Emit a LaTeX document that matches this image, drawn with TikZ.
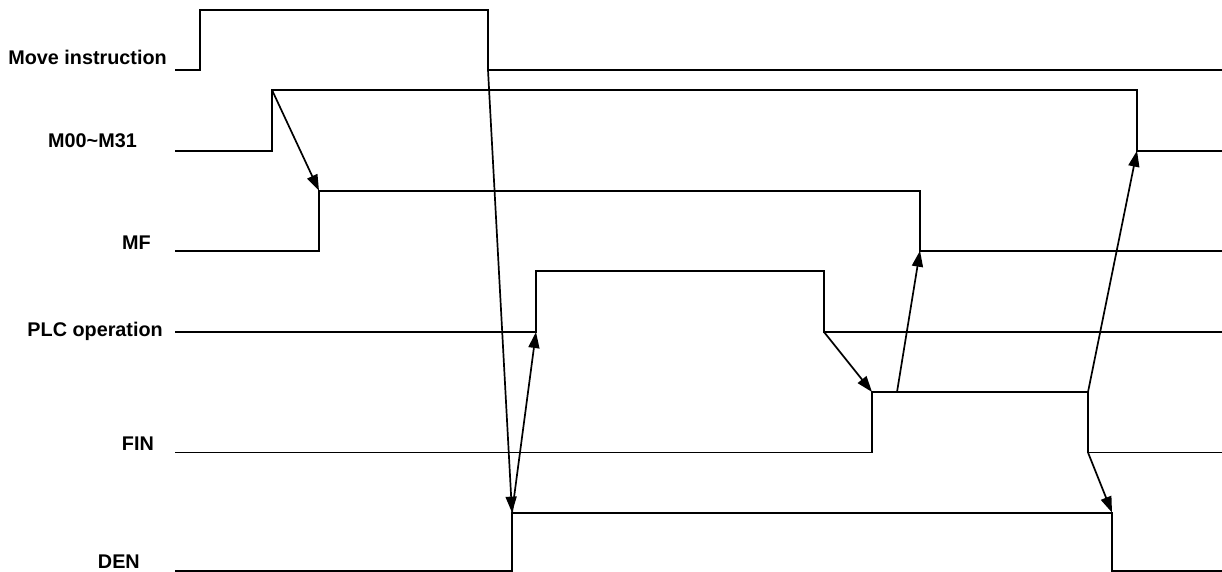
\documentclass[tikz,border=0pt]{standalone}
\usepackage{fontspec}
\setmainfont{Liberation Sans}
\usetikzlibrary{arrows.meta}
\begin{document}
\begin{tikzpicture}[x=1pt,y=-1pt,
  wave/.style={line width=1.9pt, line join=miter},
  cause/.style={line width=1.7pt, -{Triangle[length=16pt,width=11pt]}},
  lbl/.style={anchor=base east, inner sep=0pt, font=\fontsize{19.8}{24}\selectfont\bfseries}]
\useasboundingbox (0,0) rectangle (1222,572);
% labels
\node[lbl] (lmove) at (167,65) {Move instruction};
\node[lbl] (lm) at (137,148) {M00\textasciitilde M31};
\node[lbl] (lmf) at (151,249) {MF};
\node[lbl] (lplc) at (163,336.5) {PLC operation};
\node[lbl] (lfin) at (154,450) {FIN};
\node[lbl] (lden) at (140,568.5) {DEN};
% key points
\coordinate (mvS) at (175,70);
\coordinate (mvR) at (200,70);
\coordinate (mvRh) at (200,10);
\coordinate (mvFh) at (488,10);
\coordinate (mvF) at (488,70);
\coordinate (mvE) at (1222,70);

\coordinate (mS) at (175,150.7);
\coordinate (mR) at (272,150.7);
\coordinate (mRh) at (272,90);
\coordinate (mFh) at (1137,90);
\coordinate (mF) at (1137,150.7);
\coordinate (mE) at (1222,150.7);

\coordinate (fS) at (175,250.7);
\coordinate (fR) at (319,250.7);
\coordinate (fRh) at (319,190.7);
\coordinate (fFh) at (920,190.7);
\coordinate (fF) at (920,250.7);
\coordinate (fE) at (1222,250.7);

\coordinate (pS) at (175,332);
\coordinate (pR) at (536,332);
\coordinate (pRh) at (536,271);
\coordinate (pFh) at (824,271);
\coordinate (pF) at (824,332);
\coordinate (pE) at (1222,332);

\coordinate (nS) at (175,452.5);
\coordinate (nR) at (872,452.5);
\coordinate (nRh) at (872,392);
\coordinate (nMid) at (897,392);
\coordinate (nFh) at (1088,392);
\coordinate (nF) at (1088,452.5);
\coordinate (nE) at (1222,452.5);

\coordinate (dS) at (175,570.8);
\coordinate (dR) at (512,570.8);
\coordinate (dRh) at (512,512.6);
\coordinate (dFh) at (1112,512.6);
\coordinate (dF) at (1112,570.8);
\coordinate (dE) at (1222,570.8);
% waveforms
\draw[wave] (mvS) -- (mvR) -- (mvRh) -- (mvFh) -- (mvF) -- (mvE);
\draw[wave] (mS) -- (mR) -- (mRh) -- (mFh) -- (mF) -- (mE);
\draw[wave] (fS) -- (fR) -- (fRh) -- (fFh) -- (fF) -- (fE);
\draw[wave] (pS) -- (pR) -- (pRh) -- (pFh) -- (pF) -- (pE);
\draw[wave] (nS) -- (nR) -- (nRh) -- (nFh) -- (nF) -- (nE);
\draw[wave] (dS) -- (dR) -- (dRh) -- (dFh) -- (dF) -- (dE);
% causal arrows
\draw[cause] (mRh) -- (fRh);
\draw[cause] (mvF) -- (dRh);
\draw[cause] (dRh) -- (pR);
\draw[cause] (pF) -- (nRh);
\draw[cause] (nMid) -- (fF);
\draw[cause] (nFh) -- (mF);
\draw[cause] (nF) -- (dFh);
\end{tikzpicture}
\end{document}
